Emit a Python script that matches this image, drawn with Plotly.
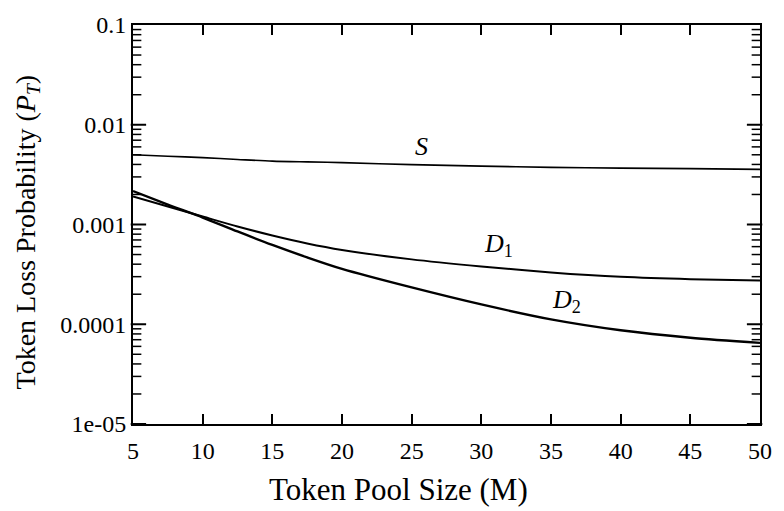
import math
import plotly.graph_objects as go

# Token pool size M
pool_size = [5, 7.5, 10, 12.5, 15, 17.5, 20, 25, 30, 35, 40, 45, 50]

# Token loss probability P_T for each scheme
p_S = [0.00501, 0.00484, 0.00468, 0.00449, 0.00432, 0.00424, 0.00417, 0.00398,
       0.00385, 0.00374, 0.00367, 0.00363, 0.00357]
p_D1 = [0.001905, 0.001514, 0.001202, 0.000955, 0.000776, 0.000646, 0.000556, 0.000447,
        0.000380, 0.000331, 0.000299, 0.000283, 0.000275]
p_D2 = [0.002163, 0.001585, 0.001175, 0.000851, 0.000624, 0.000468, 0.000359, 0.000234,
        0.000158, 0.000112, 0.0000871, 0.0000733, 0.0000650]

# Curve labels: text, x, y
curve_labels = [
    ("<i>S</i>", 25.7, 0.0060),
    ("<i>D</i><sub>1</sub>", 31.2, 0.00063),
    ("<i>D</i><sub>2</sub>", 36.1, 0.00017),
]

x_tick_vals = [5, 10, 15, 20, 25, 30, 35, 40, 45, 50]
# decade labels as printed on the y axis
y_label_alias = {"0.00001": "1e-05", "1e-5": "1e-05", "1e\u22125": "1e-05"}

SERIF = "Liberation Serif, Times New Roman, serif"
X_RANGE = [5, 50]
LOG_RANGE = [-5, -1]
MARGIN = dict(l=133, r=15, t=23, b=87)
WIDTH, HEIGHT = 784, 511

fig = go.Figure()
for ys, w in ((p_S, 1.6), (p_D1, 2.0), (p_D2, 2.4)):
    fig.add_trace(go.Scatter(x=pool_size, y=ys, mode="lines",
                             line=dict(color="black", width=w, shape="spline", smoothing=0.8),
                             showlegend=False, hoverinfo="skip"))

# Inward y-axis tick marks on both frame sides, drawn as short horizontal markers.
# Each marker is centred half its length inside the frame.
units_per_px = (X_RANGE[1] - X_RANGE[0]) / (WIDTH - MARGIN["l"] - MARGIN["r"])
decades = [10.0 ** e for e in range(LOG_RANGE[0], LOG_RANGE[1] + 1)]
minors = [m * 10.0 ** e for e in range(LOG_RANGE[0], LOG_RANGE[1]) for m in range(2, 10)]
for vals, length, lw in ((decades, 11, 2.0), (minors, 7, 1.5)):
    half = length / 2 * units_per_px
    for edge_x in (X_RANGE[0] + half, X_RANGE[1] - half):
        fig.add_trace(go.Scatter(x=[edge_x] * len(vals), y=vals, mode="markers",
                                 marker=dict(symbol="line-ew", size=length,
                                             line=dict(color="black", width=lw)),
                                 showlegend=False, hoverinfo="skip", cliponaxis=False))

for text, lx, ly in curve_labels:
    fig.add_annotation(x=lx, y=math.log10(ly), xref="x", yref="y", text=text,
                       showarrow=False, font=dict(family=SERIF, size=26, color="black"))

fig.update_xaxes(range=X_RANGE, tickmode="array", tickvals=x_tick_vals,
                 ticks="inside", ticklen=10, tickwidth=2, tickcolor="black",
                 showline=True, linecolor="black", linewidth=2, mirror="ticks",
                 showgrid=False, zeroline=False, ticklabelstandoff=4,
                 tickfont=dict(family=SERIF, size=24, color="black"))

fig.update_yaxes(type="log", range=LOG_RANGE, tickmode="linear", tick0=0, dtick=1,
                 exponentformat="none", labelalias=y_label_alias, ticks="",
                 showline=True, linecolor="black", linewidth=2, mirror=True,
                 showgrid=False, zeroline=False,
                 tickfont=dict(family=SERIF, size=24, color="black"))

# Axis titles
fig.add_annotation(xref="paper", yref="paper", x=(402 - 133) / 636, y=-(490 - 424) / 401,
                   xanchor="center", yanchor="middle",
                   text="Token Pool Size (M)", showarrow=False,
                   font=dict(family=SERIF, size=31, color="black"))
fig.add_annotation(xref="paper", yref="paper", x=-(133 - 26) / 636, y=(424 - 231) / 401,
                   xanchor="center", yanchor="middle",
                   text="Token Loss Probability (<i>P</i><sub><i>T</i></sub>)", textangle=-90,
                   showarrow=False, font=dict(family=SERIF, size=28, color="black"))

fig.update_layout(width=WIDTH, height=HEIGHT, margin=MARGIN,
                  paper_bgcolor="white", plot_bgcolor="white")

fig.write_html("out.html")
